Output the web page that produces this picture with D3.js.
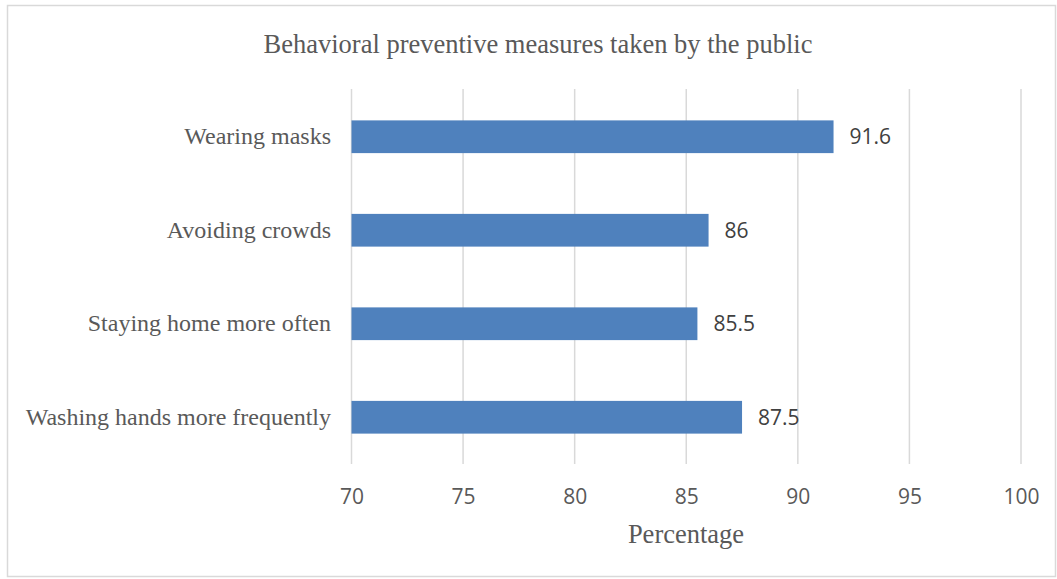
<!DOCTYPE html>
<html>
<head>
<meta charset="utf-8">
<script src="https://cdn.jsdelivr.net/npm/d3@7"></script>
<style>
  html, body { margin: 0; padding: 0; background: #fff; }
  svg { display: block; }
</style>
</head>
<body>
<svg id="chart" width="1057" height="579"></svg>
<script>
const categories = ["Wearing masks", "Avoiding crowds", "Staying home more often", "Washing hands more frequently"];
const values = [91.6, 86, 85.5, 87.5];
const xTicks = [70, 75, 80, 85, 90, 95, 100];
const title = "Behavioral preventive measures taken by the public";
const xTitle = "Percentage";

const svg = d3.select("#chart");
const serif = "'Liberation Serif', 'Times New Roman', serif";
const sans = "'Open Sans', Carlito, sans-serif";

// outer border
svg.append("rect").attr("x", 7.5).attr("y", 5.5).attr("width", 1048).attr("height", 571)
  .attr("fill", "#fff").attr("stroke", "#d9d9d9").attr("stroke-width", 1.5);

const x = d3.scaleLinear().domain([70, 100]).range([351.5, 1021]);
const y = d3.scaleBand().domain(categories).range([90, 464]).paddingInner(0.65).paddingOuter(0.325);

// gridlines
svg.append("g").selectAll("line").data(xTicks).join("line")
  .attr("x1", d => x(d)).attr("x2", d => x(d))
  .attr("y1", 89).attr("y2", 464)
  .attr("stroke", "#d9d9d9").attr("stroke-width", 1.5);

// bars
svg.append("g").selectAll("rect").data(values).join("rect")
  .attr("x", x(70))
  .attr("y", (d, i) => y(categories[i]))
  .attr("width", d => x(d) - x(70))
  .attr("height", y.bandwidth())
  .attr("fill", "#4f81bd");

// value labels
svg.append("g").selectAll("text").data(values).join("text")
  .attr("x", d => x(d) + 16)
  .attr("y", (d, i) => y(categories[i]) + y.bandwidth() / 2)
  .attr("dy", "0.36em")
  .attr("font-family", sans).attr("font-size", 21).attr("fill", "#404040")
  .text(d => d);

// x axis tick labels
const xAxis = d3.axisBottom(x).tickValues(xTicks).tickSize(0).tickPadding(0);
const gx = svg.append("g").attr("transform", "translate(0,489)").call(xAxis);
gx.select(".domain").remove();
gx.selectAll("text").attr("font-family", sans).attr("font-size", 21).attr("fill", "#595959");

// y category labels
const yAxis = d3.axisLeft(y).tickSize(0).tickPadding(0);
const gy = svg.append("g").attr("transform", "translate(331,0)").call(yAxis);
gy.select(".domain").remove();
gy.selectAll("text").attr("font-family", serif).attr("font-size", 24).attr("fill", "#595959");

// title
svg.append("text").attr("x", 538).attr("y", 53).attr("text-anchor", "middle")
  .attr("font-family", serif).attr("font-size", 26.5).attr("fill", "#595959").text(title);

// x title
svg.append("text").attr("x", 686).attr("y", 543).attr("text-anchor", "middle")
  .attr("font-family", serif).attr("font-size", 26.5).attr("fill", "#595959").text(xTitle);
</script>
</body>
</html>
